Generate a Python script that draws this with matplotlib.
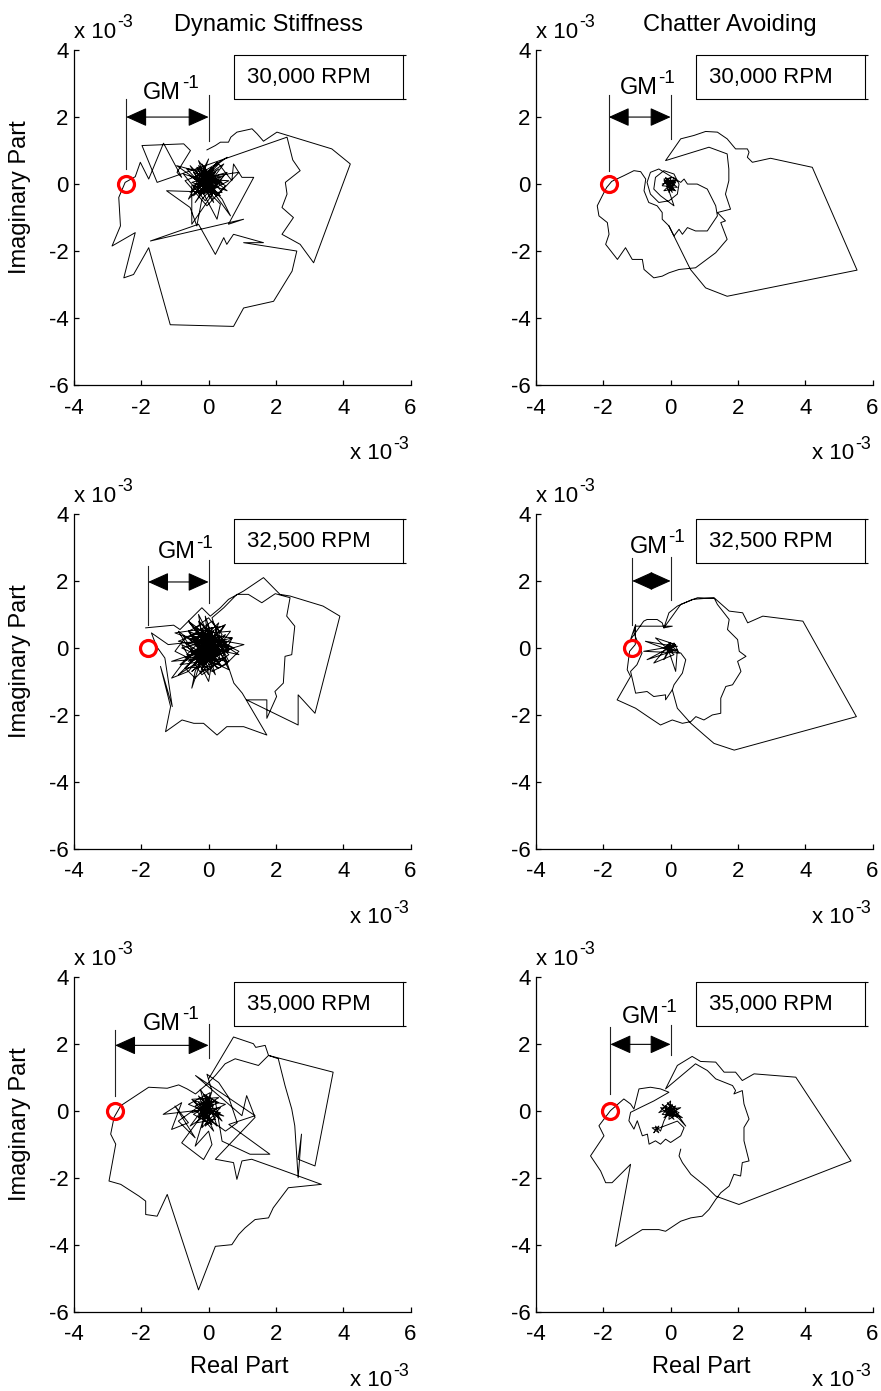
import numpy as np
import matplotlib
matplotlib.use('Agg')
import matplotlib.pyplot as plt
import matplotlib.transforms as mtransforms
from matplotlib.patches import FancyArrowPatch

plt.rcParams['font.family'] = ['Liberation Sans', 'DejaVu Sans']

# ---------------- data (units of 1e-3) ----------------
xticks = [-4, -2, 0, 2, 4, 6]
yticks = [-6, -4, -2, 0, 2, 4]
column_titles = ['Dynamic Stiffness', 'Chatter Avoiding']
speeds = ['30,000 RPM', '32,500 RPM', '35,000 RPM']

# real part of the critical point (GM^-1) for each speed
ds_critical = [-2.45, -1.80, -2.78]
ca_critical = [-1.84, -1.14, -1.79]

# Dynamic stiffness, 30,000 RPM
ds30_loop = np.array([
    (-0.05, 1.02), (0.20, 1.15), (0.35, 1.25), (0.59, 1.25), (0.66, 1.40), (0.84, 1.55), (1.29, 1.65),
    (1.44, 1.50), (1.63, 1.28), (1.88, 1.45), (2.03, 1.55), (3.66, 1.05), (4.21, 0.60), (3.12, -2.35),
    (2.72, -1.80), (2.18, -1.50), (2.52, -1.00), (2.18, -0.70), (2.33, -0.30), (2.28, 0.05), (2.72, 0.40),
    (2.50, 0.72), (2.33, 1.40), (-1.53, 0.05), (-1.98, 1.15), (-0.74, 1.20), (-0.54, 1.00), (-0.94, 0.35),
    (-0.80, 0.20), (-1.34, 1.22), (-1.78, 0.15), (-2.03, 0.65), (-2.18, 0.22), (-2.48, 0.05), (-2.67, -0.40),
    (-2.62, -1.25), (-2.87, -1.85), (-2.18, -1.45), (-2.52, -2.80), (-2.23, -2.70), (-1.78, -1.90),
    (-1.14, -4.20), (0.74, -4.25), (1.04, -3.70), (1.93, -3.50), (2.48, -2.60), (2.62, -2.00), (1.04, -1.75),
    (1.63, -1.75), (0.74, -1.50), (0.54, -1.80), (0.45, -1.60), (0.20, -2.10), (-0.30, -1.20), (-1.73, -1.70),
    (1.04, -1.05), (0.59, -1.20), (1.34, 0.20), (0.99, 0.20), (0.74, 0.60), (0.69, 0.10), (0.30, 0.60),
])
ds30_core = np.array([
    (-0.20, 0.10), (0.30, 0.05), (-0.45, 0.35), (0.15, -0.55), (-0.30, 0.70), (0.40, -0.25), (-1.25, -0.20),
    (-0.55, -0.70), (-0.35, -1.25), (-0.20, -0.45), (0.55, 0.35), (-0.50, 0.05), (0.20, -0.20), (-0.10, 0.40),
    (-0.65, 0.45), (0.35, -0.60), (0.25, -1.05), (-0.25, -0.10), (0.10, 0.25), (-0.40, -0.55), (0.45, 0.60),
    (-0.15, 0.20), (0.90, 0.35), (0.25, -0.35), (-0.55, 0.25), (0.00, -0.15), (-0.35, 0.50), (0.50, -0.05),
    (-0.05, -0.65), (-0.70, 0.10), (0.15, 0.45), (-0.30, -0.30), (0.35, 0.20), (-0.95, 0.55), (-0.10, -0.05),
    (-0.45, -0.35), (0.25, 0.65), (-0.20, 0.05), (0.05, -0.40), (-0.55, 0.55), (0.40, -0.45), (0.65, -0.95),
    (-0.25, 0.30), (0.10, 0.00), (-0.40, 0.15), (0.60, 0.10), (-0.15, -0.30), (0.20, 0.35), (-0.60, -0.45),
    (0.00, 0.75), (-0.35, -0.20), (0.30, -0.10), (-0.05, 0.10), (-0.25, 0.45), (0.15, -0.25), (-0.50, -1.20),
    (-0.50, -0.05), (0.45, 0.25), (-0.10, -0.50), (-0.75, 0.30), (0.25, 0.00), (-0.20, 0.60), (0.05, -0.05),
    (-0.40, 0.40), (0.35, -0.35), (-0.15, -0.15), (0.10, 0.50), (-0.30, 0.10), (0.55, -0.20), (-0.05, 0.30),
    (-0.45, -0.10), (0.20, 0.15), (-0.25, -0.35), (0.00, 0.40), (0.55, 0.80), (-0.35, 0.25), (0.15, -0.10),
    (-0.10, 0.20), (0.30, 0.45), (-0.55, -0.25), (0.05, 0.15), (-0.20, -0.20), (0.40, 0.05), (-0.30, 0.55),
    (0.10, -0.30), (-0.15, 0.00),
])

# Dynamic stiffness, 32,500 RPM
ds32_loop = np.array([
    (-1.87, 0.60), (-1.04, 0.68), (-0.85, 0.55), (-0.60, 0.80), (-0.20, 1.20), (0.05, 0.95), (0.35, 1.20),
    (0.59, 1.45), (1.04, 1.70), (1.63, 2.10), (2.02, 1.70), (2.12, 1.60), (2.42, 1.55), (3.40, 1.25),
    (3.90, 0.95), (3.16, -1.95), (2.66, -1.40), (2.66, -2.30), (1.13, -1.55), (1.73, -1.55), (1.73, -2.10),
    (2.02, -1.45), (1.97, -1.30), (2.22, -1.05), (2.27, -0.25), (2.47, -0.20), (2.56, 0.65), (2.32, 0.95),
    (2.42, 1.50), (1.98, 1.62), (1.58, 1.35), (1.18, 1.60), (0.84, 1.60), (0.45, 1.20), (0.10, 0.90),
    (0.75, -1.05), (1.00, -1.35), (1.73, -2.60), (1.04, -2.35), (0.54, -2.35), (0.25, -2.60), (-0.15, -2.25),
    (-0.44, -2.25), (-0.79, -2.15), (-1.28, -2.50), (-1.13, -1.75), (-1.43, -0.55), (-1.08, -1.75),
    (-1.30, -0.30), (-1.55, 0.05), (-1.70, 0.45), (-1.20, 0.10),
])
ds32_core = np.array([
    (-0.30, 0.20), (-0.60, 0.50), (-0.20, 0.70), (0.10, 0.30), (-0.40, -0.10), (-0.80, 0.10), (-0.50, -0.40),
    (-0.10, -0.20), (0.30, 0.10), (0.60, -0.20), (0.20, -0.50), (-0.20, -0.80), (-0.40, -0.50), (0.00, -0.10),
    (0.40, 0.40), (0.10, 0.80), (-0.30, 0.50), (-0.70, 0.30), (-1.00, -0.10), (-0.60, -0.30), (-0.20, 0.00),
    (0.20, -0.30), (0.50, 0.10), (0.90, -0.10), (0.50, -0.50), (0.10, -0.70), (-0.30, -0.40), (-0.10, 0.10),
    (0.30, 0.50), (0.00, 0.90), (-0.40, 0.60), (-0.20, 0.30), (0.20, 0.00), (-0.30, -0.20), (-0.70, -0.60),
    (-0.40, -0.90), (0.00, -0.50), (0.40, -0.30), (0.70, 0.30), (0.30, 0.20), (-0.10, 0.40), (-0.50, 0.20),
    (-0.90, 0.50), (-0.60, 0.00), (-0.20, -0.40), (0.20, -0.10), (0.00, 0.30), (-0.40, 0.10), (-0.10, -0.30),
    (0.30, -0.60), (0.60, -0.40), (0.40, 0.00), (0.00, 0.20), (-0.30, 0.40), (-0.60, 0.80), (-0.20, 0.50),
    (0.10, 0.10), (-0.20, -0.10), (-0.50, -0.20), (-0.80, -0.50), (-1.10, -0.90), (-0.60, -0.70),
    (-0.30, -0.30), (0.10, -0.40), (0.00, -1.00), (-0.20, -0.60), (0.20, -0.20), (0.60, 0.00), (0.30, 0.40),
    (0.50, 0.70), (0.10, 0.50), (-0.10, 0.00), (-0.40, -0.30), (-0.10, -0.50), (0.20, 0.20), (-0.20, 0.20),
    (-0.50, 0.40), (-0.30, 0.00), (0.10, -0.20), (0.40, 0.20), (0.10, 0.00), (-0.20, 0.10), (0.00, -0.30),
    (-0.30, -0.60), (-0.50, -1.20), (-0.40, -0.70), (-0.10, -0.10), (0.20, 0.30), (-0.10, 0.60), (-0.30, 1.00),
    (-0.20, 0.40), (0.00, 0.00), (0.30, -0.10), (0.10, -0.40), (-0.20, -0.20), (-0.40, 0.20), (-0.10, 0.20),
    (0.15, 0.05), (-0.05, -0.10), (-0.25, 0.05), (0.05, 0.15), (-0.15, -0.05),
])
ds32_core_tail = np.array([
    (-0.40, 0.30), (0.30, -0.20), (-0.70, -0.30), (0.50, 0.40), (-0.20, -0.60), (0.10, 0.60), (-0.90, 0.20),
    (0.60, -0.10), (-0.30, 0.80), (0.20, -0.80), (-0.60, 0.50), (0.40, 0.10), (-1.10, -0.40), (0.00, -0.30),
    (-0.50, -0.70), (0.70, 0.30), (-0.10, 0.40), (0.30, -0.50), (-0.80, 0.00), (0.15, 0.25), (-0.35, -0.25),
    (0.55, -0.40), (-0.60, 0.80), (0.05, -0.05), (-0.45, 0.10), (0.90, -0.20), (-0.25, 0.55), (0.25, 0.45),
    (-0.70, -0.60), (0.10, -0.55), (-0.15, -0.10), (0.45, 0.65), (-1.00, 0.45), (0.35, -0.05), (-0.30, -0.45),
    (-0.05, 0.70), (0.60, -0.65), (-0.55, -0.10), (0.20, 0.10), (-0.20, 0.20), (0.00, -0.80), (-0.75, 0.35),
    (0.40, 0.30), (-0.10, -0.35), (0.75, 0.00), (-0.40, 0.60), (0.15, -0.25), (-0.65, -0.20), (0.30, 0.75),
    (-0.25, -0.75), (0.50, -0.30), (-0.85, -0.50), (0.05, 0.35), (-0.35, 0.05), (0.25, -0.60), (-0.50, 0.40),
    (0.65, 0.50), (-0.15, -0.55), (0.10, 0.15), (-0.60, -0.40), (1.05, 0.10), (-0.30, 0.35), (0.35, -0.35),
    (-0.10, 0.95), (0.00, 0.10), (-0.45, -0.55), (0.45, -0.15), (-0.20, 0.50), (0.20, -0.40), (-0.70, 0.15),
    (0.55, 0.20), (-0.05, -0.20), (-0.40, -0.15), (0.30, 0.35), (-0.90, -0.80), (0.10, -0.15), (-0.25, 0.25),
    (0.40, -0.55), (-0.55, 0.25), (0.15, 0.50), (-0.35, -0.35), (0.60, 0.05), (-0.15, 0.10), (0.05, -0.45),
])

# Dynamic stiffness, 35,000 RPM
ds35_loop = np.array([
    (0.00, 0.96), (0.74, 2.21), (1.33, 2.01), (1.40, 1.90), (1.68, 1.96), (1.78, 1.66), (3.70, 1.16),
    (3.16, -1.64), (2.66, -1.44), (2.76, -0.69), (2.66, -1.99), (2.56, -0.44), (2.47, 0.06), (2.37, 0.41),
    (2.27, 0.76), (2.17, 1.16), (2.07, 1.56), (1.78, 1.66), (1.48, 1.36), (0.79, 1.56), (0.49, 1.41),
    (0.20, 1.06), (-0.05, 0.80), (-0.39, 0.51), (-0.64, 0.66), (-0.89, 0.78), (-1.23, 0.68), (-1.78, 0.71),
    (-2.61, 0.16), (-2.81, -0.19), (-2.91, -0.69), (-2.76, -0.99), (-2.96, -2.09), (-2.61, -2.19),
    (-2.07, -2.54), (-1.87, -2.69), (-1.87, -3.09), (-1.53, -3.14), (-1.23, -2.49), (-0.30, -5.34),
    (0.20, -4.04), (0.69, -3.99), (0.89, -3.69), (1.08, -3.49), (1.38, -3.24), (1.78, -3.19), (1.92, -2.89),
    (2.37, -2.29), (3.35, -2.19), (2.12, -1.74), (1.28, -1.44), (0.99, -1.49), (0.84, -2.04), (0.74, -1.54),
    (0.20, -1.44), (1.38, -0.19), (1.13, 0.46), (0.99, -0.14), (-0.39, 1.06), (1.38, -0.14), (0.60, -0.40),
    (1.82, -1.29), (1.23, -1.29), (0.40, -0.90),
])
ds35_core = np.array([
    (0.20, 0.30), (-0.45, -0.10), (0.10, -0.40), (-0.30, 0.45), (0.25, -0.15), (-0.60, 0.20), (0.05, 0.55),
    (-0.20, -0.50), (0.35, 0.10), (-1.35, -0.10), (-0.80, 0.25), (-1.10, -0.55), (-0.60, -0.35), (-1.00, 0.15),
    (-0.40, -0.80), (-0.90, -0.30), (-0.20, 0.20), (0.15, -0.60), (-0.35, 0.00), (0.30, 0.40), (-0.50, 0.35),
    (0.00, -0.20), (-0.25, 0.65), (0.40, -0.30), (-0.10, 0.15), (-0.55, -0.45), (0.20, 0.05), (-0.15, -0.30),
    (0.10, 0.35), (-0.40, 0.15), (0.25, -0.45), (-0.05, 0.45), (-0.30, -0.20), (0.50, 0.20), (-0.20, 0.35),
    (0.05, -0.05), (-0.45, 0.30), (0.15, 0.20), (-0.10, -0.45), (0.35, -0.05), (-0.25, 0.10), (0.00, 0.30),
    (-0.35, -0.35), (0.20, -0.25), (-0.15, 0.50), (0.30, 0.25), (-0.50, -0.05), (0.05, 0.10), (-0.20, -0.15),
    (0.15, -0.35), (-0.30, 0.25), (0.45, -0.15), (-0.10, 0.00), (-0.80, -0.95), (-0.15, -1.45), (0.10, -1.00),
    (0.00, -0.60), (-0.40, -1.05), (0.10, 0.60), (-0.05, 1.10), (0.30, 0.85), (0.60, 0.40), (0.85, -0.35),
    (0.50, -0.60), (-0.25, -0.05), (0.10, 0.15), (-0.15, 0.05),
])

# Chatter avoiding, 30,000 RPM
ca30_loop = np.array([
    (-0.05, -1.25), (0.59, -2.55), (1.04, -3.10), (1.68, -3.35), (5.54, -2.57), (4.21, 0.50), (2.97, 0.77),
    (2.43, 0.65), (2.28, 0.80), (2.33, 0.95), (2.28, 1.05), (1.93, 1.05), (1.68, 1.35), (1.39, 1.55),
    (1.04, 1.57), (0.69, 1.45), (0.30, 1.35), (-0.15, 0.70), (1.14, 1.10), (1.68, 0.90), (1.73, 0.45),
    (1.73, 0.10), (1.63, -0.30), (1.78, -0.75), (1.39, -0.85), (1.63, -1.10), (1.49, -1.15), (1.68, -1.65),
    (1.34, -2.05), (0.74, -2.50), (0.25, -2.55), (-0.05, -2.65), (-0.25, -2.75), (-0.50, -2.80),
    (-0.79, -2.55), (-0.84, -2.25), (-1.14, -2.25), (-1.34, -1.90), (-1.58, -2.25), (-1.93, -1.80),
    (-1.83, -1.50), (-1.88, -1.15), (-2.13, -0.95), (-2.18, -0.65), (-2.03, -0.35), (-1.90, -0.10),
    (-1.75, 0.08), (-1.39, 0.25), (-1.09, 0.40), (-0.89, 0.37), (-0.74, 0.15), (-0.79, -0.20), (-0.65, -0.55),
    (-0.40, -0.65), (-0.25, -0.85), (-0.25, -1.05), (-0.05, -1.25), (0.10, -1.55), (0.25, -1.35),
    (0.35, -1.50), (0.50, -1.30), (0.74, -1.40), (1.09, -1.40), (1.39, -0.95), (1.34, -0.65), (1.09, -0.15),
    (0.79, 0.00), (0.50, 0.00), (0.40, 0.15), (0.30, 0.05),
])
ca30_core = np.array([
    (-0.35, 0.45), (-0.60, 0.35), (-0.70, 0.05), (-0.60, -0.30), (-0.35, -0.55), (-0.05, -0.50), (0.20, -0.30),
    (0.25, 0.00), (0.10, 0.30), (-0.20, 0.40), (-0.45, 0.20), (-0.50, -0.15), (-0.30, -0.35), (0.10, -0.65),
    (-0.05, -0.20), (0.15, 0.05), (-0.20, 0.10), (0.05, -0.25), (-0.15, 0.20), (0.20, -0.10), (-0.25, -0.05),
    (0.00, 0.20), (-0.05, -0.25), (0.15, 0.15), (-0.20, -0.20), (0.10, -0.15), (-0.10, 0.10), (0.20, 0.10),
    (-0.25, 0.00), (0.05, 0.10), (-0.10, -0.15), (0.15, -0.20), (-0.15, 0.05), (0.00, -0.05), (0.10, 0.20),
    (-0.20, 0.15), (0.05, -0.10), (-0.05, 0.05), (0.12, -0.02), (-0.12, -0.08), (0.02, 0.12), (-0.08, -0.02),
])

# Chatter avoiding, 32,500 RPM
ca32_loop = np.array([
    (0.05, -1.25), (0.20, -1.80), (0.60, -2.25), (1.00, -2.60), (1.29, -2.85), (1.89, -3.05), (5.52, -2.05),
    (3.93, 0.80), (2.74, 0.95), (2.29, 0.75), (2.14, 1.05), (1.74, 1.10), (1.29, 1.50), (0.65, 1.45),
    (0.20, 1.25), (-0.05, 1.05), (-0.15, 0.75), (-0.20, 0.60), (0.30, 1.30), (0.80, 1.50), (1.30, 1.48),
    (1.39, 1.30), (1.74, 0.85), (1.69, 0.55), (1.99, 0.25), (2.04, -0.10), (2.24, -0.25), (1.99, -0.40),
    (2.09, -0.70), (1.84, -1.10), (1.64, -1.15), (1.49, -1.50), (1.49, -1.95), (1.24, -2.00), (0.99, -2.15),
    (0.75, -2.05), (0.60, -2.20), (0.35, -2.25), (0.05, -2.15), (-0.30, -2.30), (-0.60, -2.10),
    (-1.04, -1.80), (-1.59, -1.55), (-1.19, -0.85), (-1.29, -0.65), (-1.22, -0.10), (-1.05, 0.10),
    (-1.04, 0.70), (-1.19, 0.25), (-0.80, 0.80), (-0.70, 0.85), (-0.40, 0.85), (-0.25, 0.75), (-0.20, 0.60),
    (0.05, 0.65), (-1.04, 0.65), (-1.09, 0.45), (-0.85, -0.15), (-1.00, -0.50), (-1.19, -0.70),
    (-1.04, -1.35), (-0.70, -1.30), (-0.50, -1.45), (-0.15, -1.40), (-0.15, -1.55), (0.05, -1.25),
    (0.10, -1.10), (0.35, -0.75), (0.45, -0.35), (0.30, -0.15),
])
ca32_core = np.array([
    (-0.80, -0.10), (0.10, 0.05), (-0.75, 0.20), (0.05, -0.10), (-0.70, -0.35), (0.15, 0.10), (-0.45, 0.30),
    (0.10, -0.20), (-0.50, -0.45), (0.00, 0.15), (-0.15, 0.05), (0.10, -0.05), (-0.10, -0.10), (0.15, 0.10),
    (-0.05, 0.15), (0.05, -0.15), (-0.20, 0.00), (0.20, 0.05), (-0.10, 0.10), (0.05, -0.05), (0.15, -0.10),
    (-0.15, -0.05), (0.00, 0.10), (0.25, -0.15), (0.10, 0.15), (-0.05, -0.10), (0.20, -0.05), (0.15, -0.70),
    (-0.10, 0.05), (0.05, 0.05), (-0.20, -0.35), (-0.05, 0.00),
])

# Chatter avoiding, 35,000 RPM
ca35_loop = np.array([
    (0.30, -1.14), (0.25, -1.34), (0.35, -1.54), (0.60, -1.89), (1.09, -2.29), (1.34, -2.54), (2.03, -2.79),
    (5.36, -1.49), (3.72, 1.01), (2.48, 1.11), (2.13, 0.91), (1.93, 1.16), (1.59, 1.16), (1.34, 1.46),
    (0.89, 1.48), (0.64, 1.63), (0.20, 1.36), (-0.15, 0.66), (0.74, 1.41), (1.09, 1.21), (1.34, 0.96),
    (1.84, 0.76), (1.93, 0.61), (1.88, 0.51), (2.13, 0.61), (2.18, 0.21), (2.33, -0.24), (2.18, -0.49),
    (2.18, -0.89), (2.33, -1.49), (2.13, -1.54), (2.08, -1.94), (1.88, -1.89), (1.74, -2.24), (1.49, -2.44),
    (1.34, -2.64), (1.14, -2.94), (0.94, -3.14), (0.60, -3.19), (0.30, -3.29), (-0.15, -3.59),
    (-0.35, -3.54), (-0.84, -3.54), (-1.64, -4.04), (-1.19, -1.59), (-1.74, -2.14), (-1.93, -2.14),
    (-2.08, -1.79), (-2.38, -1.34), (-1.98, -0.74), (-2.13, -0.44), (-1.79, 0.01), (-1.39, 0.36),
    (-1.19, 0.21), (-1.09, 0.06), (-0.94, 0.66), (-0.60, 0.71), (-0.30, 0.66), (-0.05, 0.56), (-0.50, 0.30),
    (-0.89, 0.11), (-1.19, -0.04), (-1.24, -0.29), (-1.09, -0.54), (-0.99, -0.29), (-0.84, -0.74),
    (-0.69, -0.69), (-0.64, -0.99), (-0.45, -0.89), (-0.30, -0.99), (-0.15, -0.84), (0.00, -0.94),
    (0.30, -0.74), (0.40, -0.50), (0.20, -0.30),
])
ca35_core = np.array([
    (-0.45, -0.55), (-0.35, -0.45), (-0.50, -0.65), (-0.40, -0.50), (-0.55, -0.50), (-0.35, -0.65),
    (-0.45, -0.45), (-0.30, -0.60), (-0.20, -0.30), (0.05, 0.20), (-0.25, -0.10), (0.15, -0.15), (-0.10, 0.25),
    (0.20, 0.05), (-0.30, 0.10), (0.10, -0.25), (-0.15, 0.15), (0.25, -0.05), (-0.05, -0.25), (0.00, 0.30),
    (-0.35, -0.05), (0.15, 0.15), (-0.20, -0.20), (0.30, 0.10), (-0.10, 0.05), (0.05, -0.10), (-0.25, 0.20),
    (0.20, -0.20), (-0.05, 0.10), (0.45, -0.45), (0.10, 0.05), (-0.15, -0.10), (0.05, 0.15), (-0.20, 0.00),
    (0.15, -0.05), (-0.05, -0.05), (0.35, -0.20), (0.00, 0.05),
])

curves = [
    [[ds30_loop, ds30_core], [ca30_loop, ca30_core]],
    [[ds32_loop, ds32_core, ds32_core_tail], [ca32_loop, ca32_core]],
    [[ds35_loop, ds35_core], [ca35_loop, ca35_core]],
]
criticals = [[ds_critical[0], ca_critical[0]],
             [ds_critical[1], ca_critical[1]],
             [ds_critical[2], ca_critical[2]]]

# ---------------- layout ----------------
fig = plt.figure(figsize=(8.81, 13.91), dpi=100)
renderer = fig.canvas.get_renderer()
col_left = [0.084, 0.6084]
row_bottom = [0.7232, 0.3897, 0.0568]
ax_w, ax_h = 0.382, 0.2408

# GM annotation layout per panel:
# (arrow y, left line top, left line bottom, right line top, right line bottom, text x, text y)
gm_layout = [
    [(2.0, 2.55, 0.45, 2.67, 1.30, -1.12, 2.54), (2.0, 2.66, 0.40, 2.66, 1.36, -0.69, 2.69)],
    [(1.97, 2.45, 0.68, 2.62, 1.35, -0.69, 2.68), (2.0, 2.68, 0.68, 2.72, 1.42, -0.39, 2.84)],
    [(1.96, 2.41, 0.46, 2.61, 1.59, -1.12, 2.43), (1.99, 2.51, 0.51, 2.56, 1.66, -0.63, 2.63)],
]


def width_pt(s, fs):
    t = fig.text(0, 0, s, fontsize=fs)
    w = t.get_window_extent(renderer).width * 72.0 / fig.dpi
    t.remove()
    return w


def sup_text(ax, x, y, base, sup, fs, ha, transform, sup_scale=0.8, rise=0.48):
    """MATLAB-like text with a plain-hyphen superscript."""
    fs_s = fs * sup_scale
    wb = width_pt(base, fs)
    ws = width_pt(sup, fs_s)
    gap = 0.6
    total = wb + gap + ws
    if ha == 'left':
        x0 = 0.0
    elif ha == 'right':
        x0 = -total
    else:
        x0 = -total / 2.0
    ax.text(x, y, base, fontsize=fs, ha='left', va='baseline',
            transform=mtransforms.offset_copy(transform, fig=fig, x=x0, y=0, units='points'))
    ax.text(x, y, sup, fontsize=fs_s, ha='left', va='baseline',
            transform=mtransforms.offset_copy(transform, fig=fig, x=x0 + wb + gap, y=rise * fs,
                                              units='points'))


FS = 16
for r in range(3):
    for c in range(2):
        ax = fig.add_axes([col_left[c], row_bottom[r], ax_w, ax_h])
        path = np.vstack(curves[r][c])
        ax.plot(path[:, 0], path[:, 1], color='black', lw=0.7, zorder=2)
        crit = criticals[r][c]
        ax.plot([crit], [0], 'o', mfc='none', mec='red', ms=11.5, mew=2.3, zorder=5)

        ya, lt, lb, rt, rb, tx, ty = gm_layout[r][c]
        ax.plot([crit, crit], [lb, lt], color='#222222', lw=0.8)
        ax.plot([0, 0], [rb, rt], color='#222222', lw=0.8)
        arr = FancyArrowPatch((crit, ya), (0, ya), arrowstyle='<|-|>,head_length=1.0,head_width=0.45',
                              mutation_scale=13, color='black', lw=0.8, shrinkA=0, shrinkB=0)
        ax.add_patch(arr)
        sup_text(ax, tx, ty, 'GM', '-1', 17, 'center', ax.transData, sup_scale=0.8, rise=0.45)

        # speed box
        bx0, bx1, by0, by1 = 0.75, 5.78, 2.55, 3.85
        ax.plot([bx1 + 0.08, bx0, bx0, bx1 + 0.08], [by1, by1, by0, by0], color='black', lw=0.8,
                clip_on=False, solid_capstyle='butt')
        ax.plot([bx1, bx1], [by0, by1], color='black', lw=0.8, clip_on=False)
        ax.text(1.15, 3.17, speeds[r], ha='left', va='center', fontsize=FS)

        ax.set_xlim(-4, 6)
        ax.set_ylim(-6, 4)
        ax.set_xticks(xticks)
        ax.set_yticks(yticks)
        ax.set_xticklabels([str(v) for v in xticks])
        ax.set_yticklabels([str(v) for v in yticks])
        for s in ['top', 'right']:
            ax.spines[s].set_visible(False)
        for s in ['left', 'bottom']:
            ax.spines[s].set_linewidth(0.9)
        ax.tick_params(direction='in', length=3.5, width=0.9, labelsize=FS)
        ax.tick_params(axis='x', pad=9)
        ax.tick_params(axis='y', pad=4)

        sup_text(ax, 0.0, 1.036, 'x 10', '-3', FS, 'left', ax.transAxes)
        sup_text(ax, 0.995, -0.222, 'x 10', '-3', FS, 'right', ax.transAxes)
        if r == 0:
            ax.text(0.577, 1.058, column_titles[c], transform=ax.transAxes, ha='center', va='baseline',
                    fontsize=17)
        if c == 0:
            ax.text(-0.16, 0.56, 'Imaginary Part', transform=ax.transAxes, rotation=90,
                    ha='center', va='center', fontsize=17)
        if r == 2:
            ax.text(0.49, -0.183, 'Real Part', transform=ax.transAxes, ha='center', va='baseline', fontsize=17)

fig.savefig('out.png', dpi=100)
